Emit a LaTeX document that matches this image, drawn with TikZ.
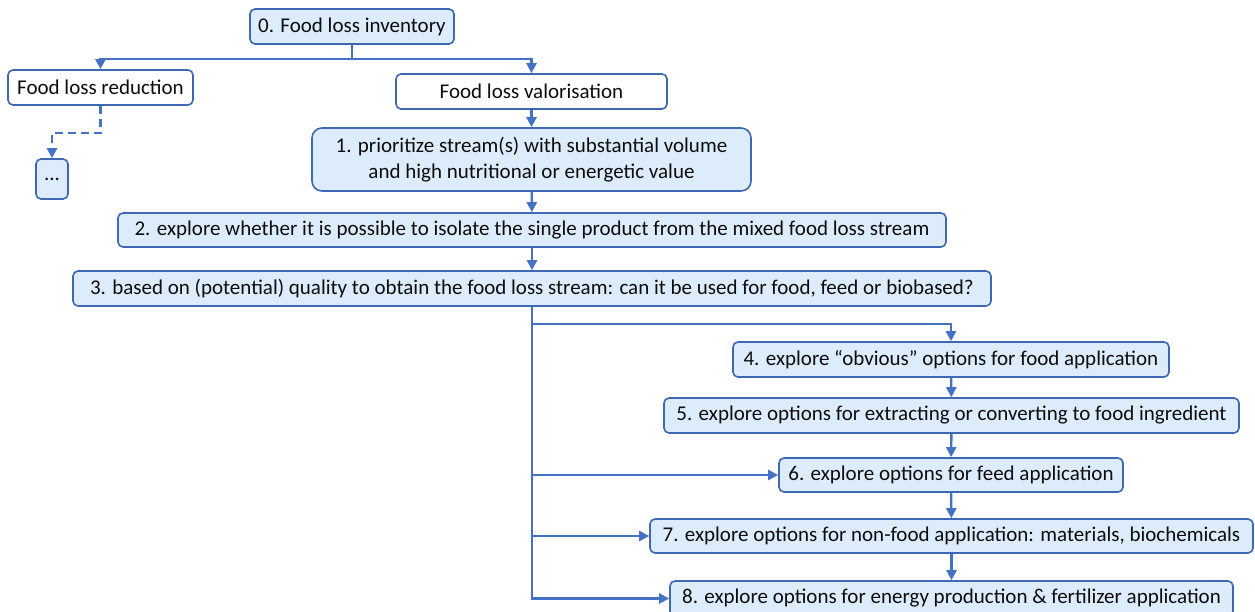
\documentclass[tikz,border=0pt]{standalone}
\usepackage{fontspec}
\setmainfont{Carlito}
\usetikzlibrary{arrows.meta}
\definecolor{linec}{HTML}{4472C4}
\definecolor{bordc}{HTML}{3D68B4}
\definecolor{fillc}{HTML}{DDECFB}
\definecolor{txtc}{HTML}{0D0D0D}
\begin{document}
\begin{tikzpicture}[x=1pt,y=-1pt,
  box/.style={draw=bordc, fill=fillc, line width=1.6pt, rounded corners=5pt,
    inner sep=0pt, align=center, text=txtc,
    font=\fontsize{21}{26}\selectfont},
  whitebox/.style={box, fill=white},
  trunk/.style={draw=linec, line width=2.4pt},
  arr/.style={trunk, -{Triangle[length=10pt,width=10pt]}},
  dasharr/.style={arr, dashed, dash pattern=on 8pt off 5pt}]
\useasboundingbox (0,0) rectangle (1255,611);
\clip (0,0) rectangle (1255,611);

% top of the tree
\node[box, minimum width=204pt, minimum height=35pt] (n0) at (352,26.5) {0. Food loss inventory};
\node[whitebox, minimum width=185pt, minimum height=35pt] (red) at (100.5,87.5) {Food loss reduction};
\node[whitebox, minimum width=271pt, minimum height=35pt] (val) at (531.5,91.5) {Food loss valorisation};
\node[box, minimum width=32pt, minimum height=40pt] (dots) at (52,179) {...};

% main sequence of steps
\node[box, rounded corners=10pt, minimum width=439pt, minimum height=63pt] (n1) at (531.5,159.5)
  {1. prioritize stream(s) with substantial volume\\and high nutritional or energetic value};
\node[box, minimum width=828pt, minimum height=34pt] (n2) at (532,230)
  {2. explore whether it is possible to isolate the single product from the mixed food loss stream};
\node[box, minimum width=918pt, minimum height=35pt] (n3) at (532,288.5)
  {3. based on (potential) quality to obtain the food loss stream: can it be used for food, feed or biobased?};

% application options
\node[box, minimum width=436pt, minimum height=35pt] (n4) at (951,359.5)
  {4. explore “obvious” options for food application};
\node[box, minimum width=575pt, minimum height=35pt] (n5) at (951.5,415.5)
  {5. explore options for extracting or converting to food ingredient};
\node[box, minimum width=344pt, minimum height=34pt] (n6) at (951,475)
  {6. explore options for feed application};
\node[box, minimum width=603pt, minimum height=34pt] (n7) at (951.5,536)
  {7. explore options for non-food application: materials, biochemicals};
\node[box, minimum width=563pt, minimum height=35pt] (n8) at (951.5,598.5)
  {8. explore options for energy production \& fertilizer application};

% split below the inventory
\coordinate (j0) at (352,59);
\draw[trunk] (n0.south) -- (j0);
\draw[arr] (j0) -| (red.north);
\draw[arr] (j0) -| (val.north);
\draw[dasharr] (red.south) -- ++(0,27) -| (dots.north);

\draw[arr] (val) -- (n1);
\draw[arr] (n1) -- (n2);
\draw[arr] (n2) -- (n3);

% trunk feeding the options
\coordinate (t4) at (532,324);
\draw[trunk] (n3.south) -- (t4);
\draw[arr] (t4) -| (n4.north);
\draw[arr] (t4) |- (n6.west);
\draw[arr] (t4) |- (n7.west);
\draw[arr] (t4) |- (n8.west);

\draw[arr] (n4) -- (n5);
\draw[arr] (n5) -- (n6);
\draw[arr] (n6) -- (n7);
\draw[arr] (n7) -- (n8);
\end{tikzpicture}
\end{document}
